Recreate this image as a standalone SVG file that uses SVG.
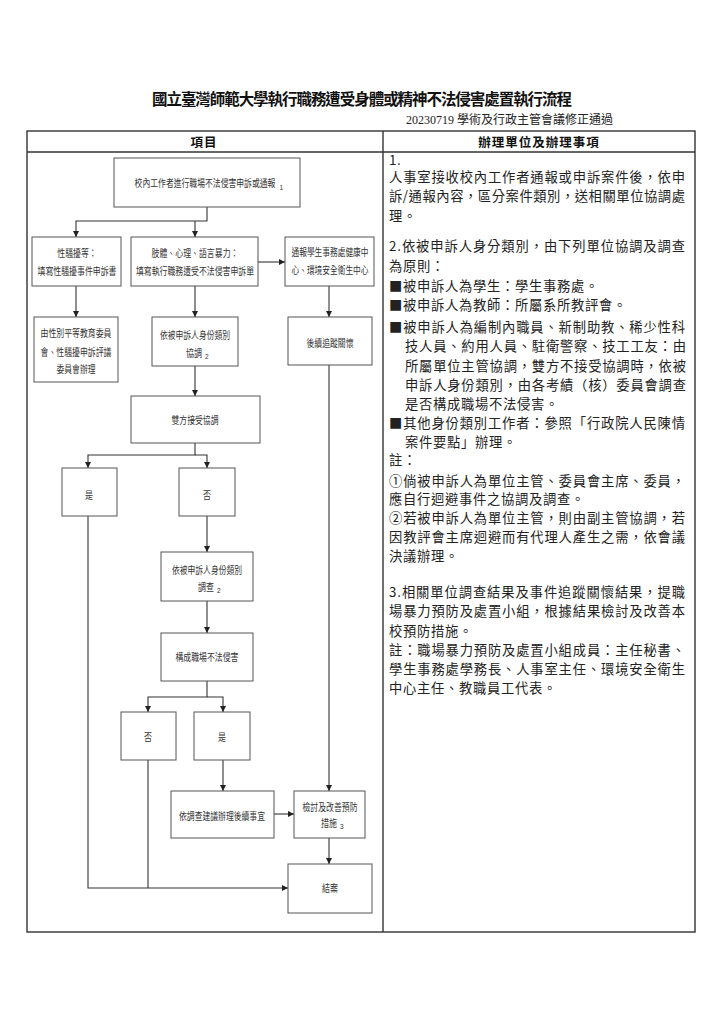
<svg xmlns="http://www.w3.org/2000/svg" width="722" height="1024" viewBox="0 0 722 1024">
<style>
.title{font-family:"Noto Sans CJK TC","Noto Sans CJK SC",sans-serif;font-size:15.5px;font-weight:bold;fill:#111}
.sub{font-family:"Liberation Serif","Noto Sans CJK TC",serif;font-size:12px;fill:#222}
.hd{font-family:"Noto Sans CJK TC",sans-serif;font-size:12.5px;font-weight:bold;letter-spacing:1px;fill:#111}
.rt{font-family:"Noto Sans CJK TC","Noto Sans CJK SC",sans-serif;font-size:13.3px;fill:#222}
.ls{letter-spacing:0.7px}
.bx{fill:#fff;stroke:#555;stroke-width:1}
.nt{font-family:"Noto Sans CJK TC","Noto Sans CJK SC",sans-serif;font-size:10px;fill:#333;text-anchor:middle}
.sb{font-family:"Liberation Sans",sans-serif;font-size:6.5px;fill:#333}
.tb{fill:none;stroke:#333;stroke-width:1.4}
.cn{fill:none;stroke:#333;stroke-width:1.1}
</style>
<defs>
<marker id="ah" markerWidth="6" markerHeight="6" refX="6" refY="3" orient="auto" markerUnits="userSpaceOnUse">
<path d="M0,0 L6,3 L0,6 z" fill="#222"/>
</marker>
</defs>
<rect width="722" height="1024" fill="#fff"/>

<text class="title" x="362" y="105" text-anchor="middle" textLength="420" lengthAdjust="spacing">國立臺灣師範大學執行職務遭受身體或精神不法侵害處置執行流程</text>
<text class="sub" x="613" y="124" text-anchor="end">20230719 學術及行政主管會議修正通過</text>

<g id="table">
<rect class="tb" x="27" y="131" width="668" height="801"/>
<line class="tb" x1="27" y1="152" x2="695" y2="152"/>
<line class="tb" x1="383" y1="131" x2="383" y2="932"/>
<text class="hd" x="204" y="147" text-anchor="middle">項目</text>
<text class="hd" x="539" y="147" text-anchor="middle">辦理單位及辦理事項</text>
</g>

<g id="connectors">
<path class="cn" d="M207,207 V221 H76 V237" marker-end="url(#ah)"/>
<path class="cn" d="M195,221 V237" marker-end="url(#ah)"/>
<path class="cn" d="M258,262 H285" marker-end="url(#ah)"/>
<path class="cn" d="M76,286 V317" marker-end="url(#ah)"/>
<path class="cn" d="M195,286 V317" marker-end="url(#ah)"/>
<path class="cn" d="M329,286 V317" marker-end="url(#ah)"/>
<path class="cn" d="M195,366 V396" marker-end="url(#ah)"/>
<path class="cn" d="M195,443 V455 H88 V468" marker-end="url(#ah)"/>
<path class="cn" d="M195,455 H207 V468" marker-end="url(#ah)"/>
<path class="cn" d="M329,365 V791" marker-end="url(#ah)"/>
<path class="cn" d="M207,516 V552" marker-end="url(#ah)"/>
<path class="cn" d="M207,601 V633" marker-end="url(#ah)"/>
<path class="cn" d="M207,681 V697 H148 V712" marker-end="url(#ah)"/>
<path class="cn" d="M207,697 H223 V712" marker-end="url(#ah)"/>
<path class="cn" d="M223,760 V791" marker-end="url(#ah)"/>
<path class="cn" d="M274,814 H294" marker-end="url(#ah)"/>
<path class="cn" d="M329,838 V864" marker-end="url(#ah)"/>
<path class="cn" d="M88,516 V888 H288" marker-end="url(#ah)"/>
<path class="cn" d="M148,760 V888"/>
</g>

<g id="n-start">
<rect class="bx" x="114" y="158" width="186" height="49"/>
<text class="nt" x="0" y="0" transform="translate(205,187) scale(0.783,1)">校內工作者進行職場不法侵害申訴或通報</text>
<text class="sb" x="279.5" y="190">1</text>
</g>
<g id="n-sexual">
<rect class="bx" x="32" y="237" width="89" height="49"/>
<text class="nt" x="77" y="257" textLength="39.5" lengthAdjust="spacingAndGlyphs">性騷擾等：</text>
<text class="nt" x="77" y="275" textLength="79" lengthAdjust="spacingAndGlyphs">填寫性騷擾事件申訴書</text>
</g>
<g id="n-violence">
<rect class="bx" x="131" y="237" width="127" height="49"/>
<text class="nt" x="195" y="257" textLength="87" lengthAdjust="spacingAndGlyphs">肢體、心理、語言暴力：</text>
<text class="nt" x="195" y="275" textLength="118" lengthAdjust="spacingAndGlyphs">填寫執行職務遭受不法侵害申訴單</text>
</g>
<g id="n-notify">
<rect class="bx" x="285" y="237" width="89" height="49"/>
<text class="nt" x="330" y="256" textLength="77" lengthAdjust="spacingAndGlyphs">通報學生事務處健康中</text>
<text class="nt" x="330" y="274" textLength="77" lengthAdjust="spacingAndGlyphs">心、環境安全衛生中心</text>
</g>
<g id="n-gender">
<rect class="bx" x="34" y="317" width="84" height="65"/>
<text class="nt" x="76" y="337" textLength="71" lengthAdjust="spacingAndGlyphs">由性別平等教育委員</text>
<text class="nt" x="76" y="356" textLength="71" lengthAdjust="spacingAndGlyphs">會、性騷擾申訴評議</text>
<text class="nt" x="76" y="373" textLength="39" lengthAdjust="spacingAndGlyphs">委員會辦理</text>
</g>
<g id="n-coord">
<rect class="bx" x="152" y="317" width="86" height="49"/>
<text class="nt" x="195" y="339" textLength="70" lengthAdjust="spacingAndGlyphs">依被申訴人身份類別</text>
<text class="nt" x="194" y="357" textLength="16" lengthAdjust="spacingAndGlyphs">協調</text>
<text class="sb" x="205" y="359">2</text>
</g>
<g id="n-follow">
<rect class="bx" x="288" y="317" width="84" height="48"/>
<text class="nt" x="330" y="347" textLength="47" lengthAdjust="spacingAndGlyphs">後續追蹤關懷</text>
</g>
<g id="n-accept">
<rect class="bx" x="131" y="396" width="129" height="47"/>
<text class="nt" x="195" y="424" textLength="47" lengthAdjust="spacingAndGlyphs">雙方接受協調</text>
</g>
<g id="n-yes1">
<rect class="bx" x="62" y="468" width="55" height="48"/>
<text class="nt" x="89" y="499" textLength="8" lengthAdjust="spacingAndGlyphs">是</text>
</g>
<g id="n-no1">
<rect class="bx" x="179" y="468" width="56" height="48"/>
<text class="nt" x="207" y="499" textLength="8" lengthAdjust="spacingAndGlyphs">否</text>
</g>
<g id="n-invest">
<rect class="bx" x="161" y="552" width="92" height="49"/>
<text class="nt" x="207" y="574" textLength="70" lengthAdjust="spacingAndGlyphs">依被申訴人身份類別</text>
<text class="nt" x="206" y="591" textLength="16" lengthAdjust="spacingAndGlyphs">調查</text>
<text class="sb" x="217" y="593">2</text>
</g>
<g id="n-constitute">
<rect class="bx" x="161" y="633" width="92" height="48"/>
<text class="nt" x="207" y="661" textLength="63" lengthAdjust="spacingAndGlyphs">構成職場不法侵害</text>
</g>
<g id="n-no2">
<rect class="bx" x="121" y="712" width="55" height="48"/>
<text class="nt" x="148" y="741" textLength="8" lengthAdjust="spacingAndGlyphs">否</text>
</g>
<g id="n-yes2">
<rect class="bx" x="194" y="712" width="56" height="48"/>
<text class="nt" x="222" y="741" textLength="8" lengthAdjust="spacingAndGlyphs">是</text>
</g>
<g id="n-handle">
<rect class="bx" x="171" y="791" width="103" height="47"/>
<text class="nt" x="222" y="820" textLength="86" lengthAdjust="spacingAndGlyphs">依調查建議辦理後續事宜</text>
</g>
<g id="n-review">
<rect class="bx" x="294" y="791" width="71" height="47"/>
<text class="nt" x="330" y="811" textLength="55" lengthAdjust="spacingAndGlyphs">檢討及改善預防</text>
<text class="nt" x="329" y="827" textLength="16" lengthAdjust="spacingAndGlyphs">措施</text>
<text class="sb" x="340" y="829">3</text>
</g>
<g id="n-close">
<rect class="bx" x="288" y="864" width="84" height="49"/>
<text class="nt" x="330" y="892" textLength="16" lengthAdjust="spacingAndGlyphs">結案</text>
</g>

<g id="notes">
<text class="rt ls" x="389" y="165">1.</text>
<text class="rt" x="389" y="182" textLength="296" lengthAdjust="spacing">人事室接收校內工作者通報或申訴案件後，依申</text>
<text class="rt" x="389" y="201" textLength="296" lengthAdjust="spacing">訴/通報內容，區分案件類別，送相關單位協調處</text>
<text class="rt ls" x="389" y="221">理。</text>
<text class="rt" x="389" y="251" textLength="296" lengthAdjust="spacing">2.依被申訴人身分類別，由下列單位協調及調查</text>
<text class="rt ls" x="389" y="271">為原則：</text>
<text class="rt ls" x="389" y="291">■被申訴人為學生：學生事務處。</text>
<text class="rt ls" x="389" y="310">■被申訴人為教師：所屬系所教評會。</text>
<text class="rt" x="389" y="332" textLength="296" lengthAdjust="spacing">■被申訴人為編制內職員、新制助教、稀少性科</text>
<text class="rt" x="405" y="351" textLength="281" lengthAdjust="spacing">技人員、約用人員、駐衛警察、技工工友：由</text>
<text class="rt" x="405" y="371" textLength="281" lengthAdjust="spacing">所屬單位主管協調，雙方不接受協調時，依被</text>
<text class="rt" x="405" y="390" textLength="281" lengthAdjust="spacing">申訴人身份類別，由各考績（核）委員會調查</text>
<text class="rt ls" x="405" y="409">是否構成職場不法侵害。</text>
<text class="rt" x="389" y="428" textLength="296" lengthAdjust="spacing">■其他身份類別工作者：參照「行政院人民陳情</text>
<text class="rt ls" x="405" y="447">案件要點」辦理。</text>
<text class="rt ls" x="389" y="465">註：</text>
<text class="rt" x="389" y="486" textLength="296" lengthAdjust="spacing">①倘被申訴人為單位主管、委員會主席、委員，</text>
<text class="rt ls" x="389" y="504">應自行迴避事件之協調及調查。</text>
<text class="rt" x="389" y="523" textLength="296" lengthAdjust="spacing">②若被申訴人為單位主管，則由副主管協調，若</text>
<text class="rt" x="389" y="542" textLength="296" lengthAdjust="spacing">因教評會主席迴避而有代理人產生之需，依會議</text>
<text class="rt ls" x="389" y="561">決議辦理。</text>
<text class="rt" x="389" y="597" textLength="296" lengthAdjust="spacing">3.相關單位調查結果及事件追蹤關懷結果，提職</text>
<text class="rt" x="389" y="616" textLength="296" lengthAdjust="spacing">場暴力預防及處置小組，根據結果檢討及改善本</text>
<text class="rt ls" x="389" y="636">校預防措施。</text>
<text class="rt" x="389" y="655" textLength="296" lengthAdjust="spacing">註：職場暴力預防及處置小組成員：主任秘書、</text>
<text class="rt" x="389" y="674" textLength="296" lengthAdjust="spacing">學生事務處學務長、人事室主任、環境安全衛生</text>
<text class="rt ls" x="389" y="693">中心主任、教職員工代表。</text>
</g>
</svg>
